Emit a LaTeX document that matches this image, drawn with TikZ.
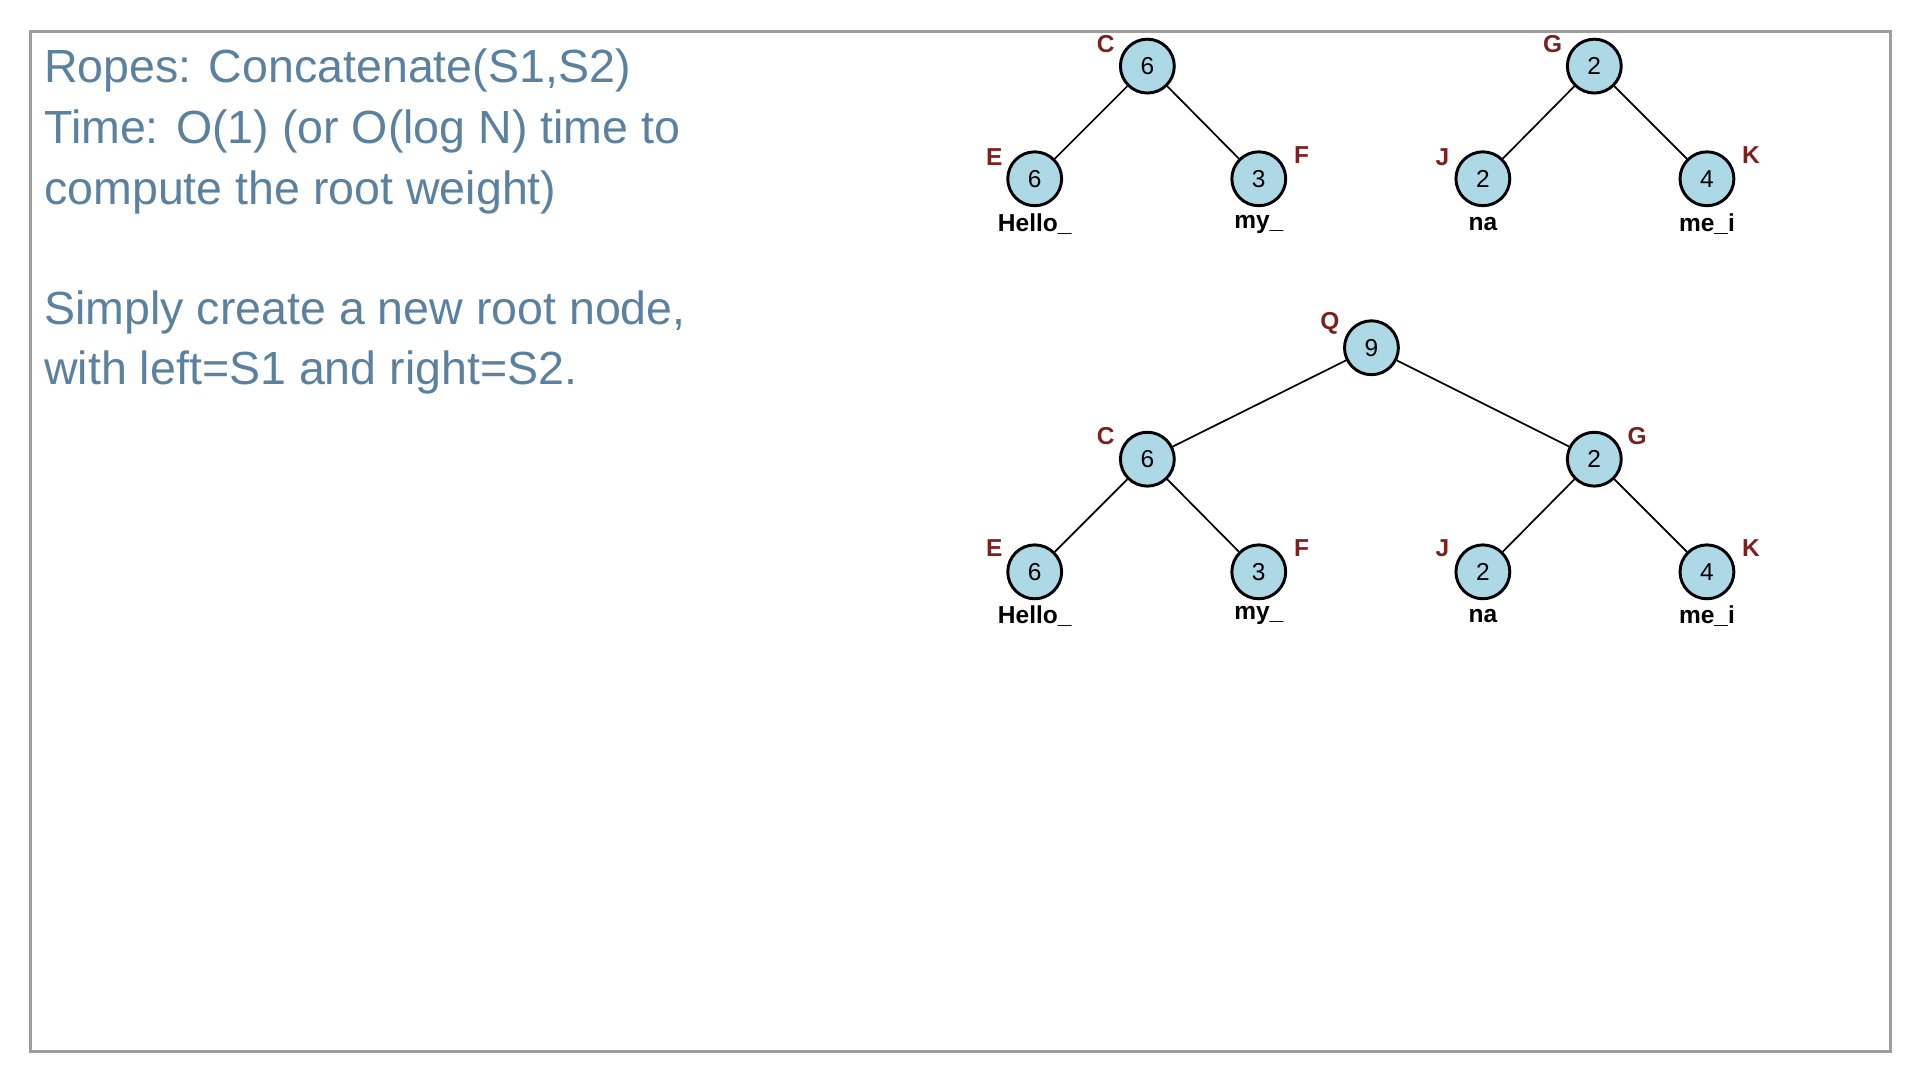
\documentclass[tikz,border=0pt]{standalone}
\usepackage{fontspec}
\setmainfont{Liberation Sans}
\definecolor{txtblue}{RGB}{90,130,160}
\definecolor{lblred}{RGB}{125,32,32}
\definecolor{nodefill}{RGB}{173,216,230}
\begin{document}
\begin{tikzpicture}[x=1pt,y=-1pt,
  rn/.style={circle,draw=black,line width=2.4pt,fill=nodefill,minimum size=44pt,inner sep=0pt,font=\fontsize{20}{24}\selectfont},
  lb/.style={text=lblred,font=\bfseries\fontsize{20}{24}\selectfont,inner sep=0pt},
  lf/.style={text=black,font=\bfseries\fontsize{20}{24}\selectfont,inner sep=0pt},
  tx/.style={anchor=base west,text=txtblue,font=\fontsize{38}{46}\selectfont,inner sep=0pt},
  ed/.style={line width=1.4pt}]
\useasboundingbox (0,0) rectangle (1568,882);
\draw[draw=black!38,line width=2.5pt] (25,26) rectangle (1544,859);
\node[tx] (t1) at (36,67) {Ropes: Concatenate(S1,S2)};
\node[tx] (t2) at (36,117) {Time: O(1) (or O(log N) time to};
\node[tx] (t3) at (36,167) {compute the root weight)};
\node[tx] (t4) at (36,265) {Simply create a new root node,};
\node[tx] (t5) at (36,314) {with left=S1 and right=S2.};
% tree 1
\node[rn] (c1) at (937,54) {6};
\node[rn] (e1) at (845,146) {6};
\node[rn] (f1) at (1028,146) {3};
\draw[ed] (c1) -- (e1); \draw[ed] (c1) -- (f1);
\node[lb] (lc1) at (903,36) {C};
\node[lb] (le1) at (812,128) {E};
\node[lb] (lf1) at (1063,127) {F};
\node[lf] (h1) at (845,183) {Hello\_};
\node[lf] (m1) at (1028,183) {my\_};
% tree 2
\node[rn] (g2) at (1302,54) {2};
\node[rn] (j2) at (1211,146) {2};
\node[rn] (k2) at (1394,146) {4};
\draw[ed] (g2) -- (j2); \draw[ed] (g2) -- (k2);
\node[lb] (lg2) at (1268,36) {G};
\node[lb] (lj2) at (1178,128) {J};
\node[lb] (lk2) at (1430,127) {K};
\node[lf] (n2) at (1211,183) {na};
\node[lf] (me2) at (1394,183) {me\_i};
% tree 3
\node[rn] (q3) at (1120,284) {9};
\node[rn] (c3) at (937,375) {6};
\node[rn] (g3) at (1302,375) {2};
\node[rn] (e3) at (845,467) {6};
\node[rn] (f3) at (1028,467) {3};
\node[rn] (j3) at (1211,467) {2};
\node[rn] (k3) at (1394,467) {4};
\draw[ed] (q3) -- (c3); \draw[ed] (q3) -- (g3);
\draw[ed] (c3) -- (e3); \draw[ed] (c3) -- (f3);
\draw[ed] (g3) -- (j3); \draw[ed] (g3) -- (k3);
\node[lb] (lq3) at (1086,264) {Q};
\node[lb] (lc3) at (903,356) {C};
\node[lb] (lg3) at (1337,356) {G};
\node[lb] (le3) at (812,448) {E};
\node[lb] (lf3) at (1063,448) {F};
\node[lb] (lj3) at (1178,448) {J};
\node[lb] (lk3) at (1430,448) {K};
\node[lf] (h3) at (845,503) {Hello\_};
\node[lf] (m3) at (1028,503) {my\_};
\node[lf] (n3) at (1211,503) {na};
\node[lf] (me3) at (1394,503) {me\_i};
\end{tikzpicture}
\end{document}
